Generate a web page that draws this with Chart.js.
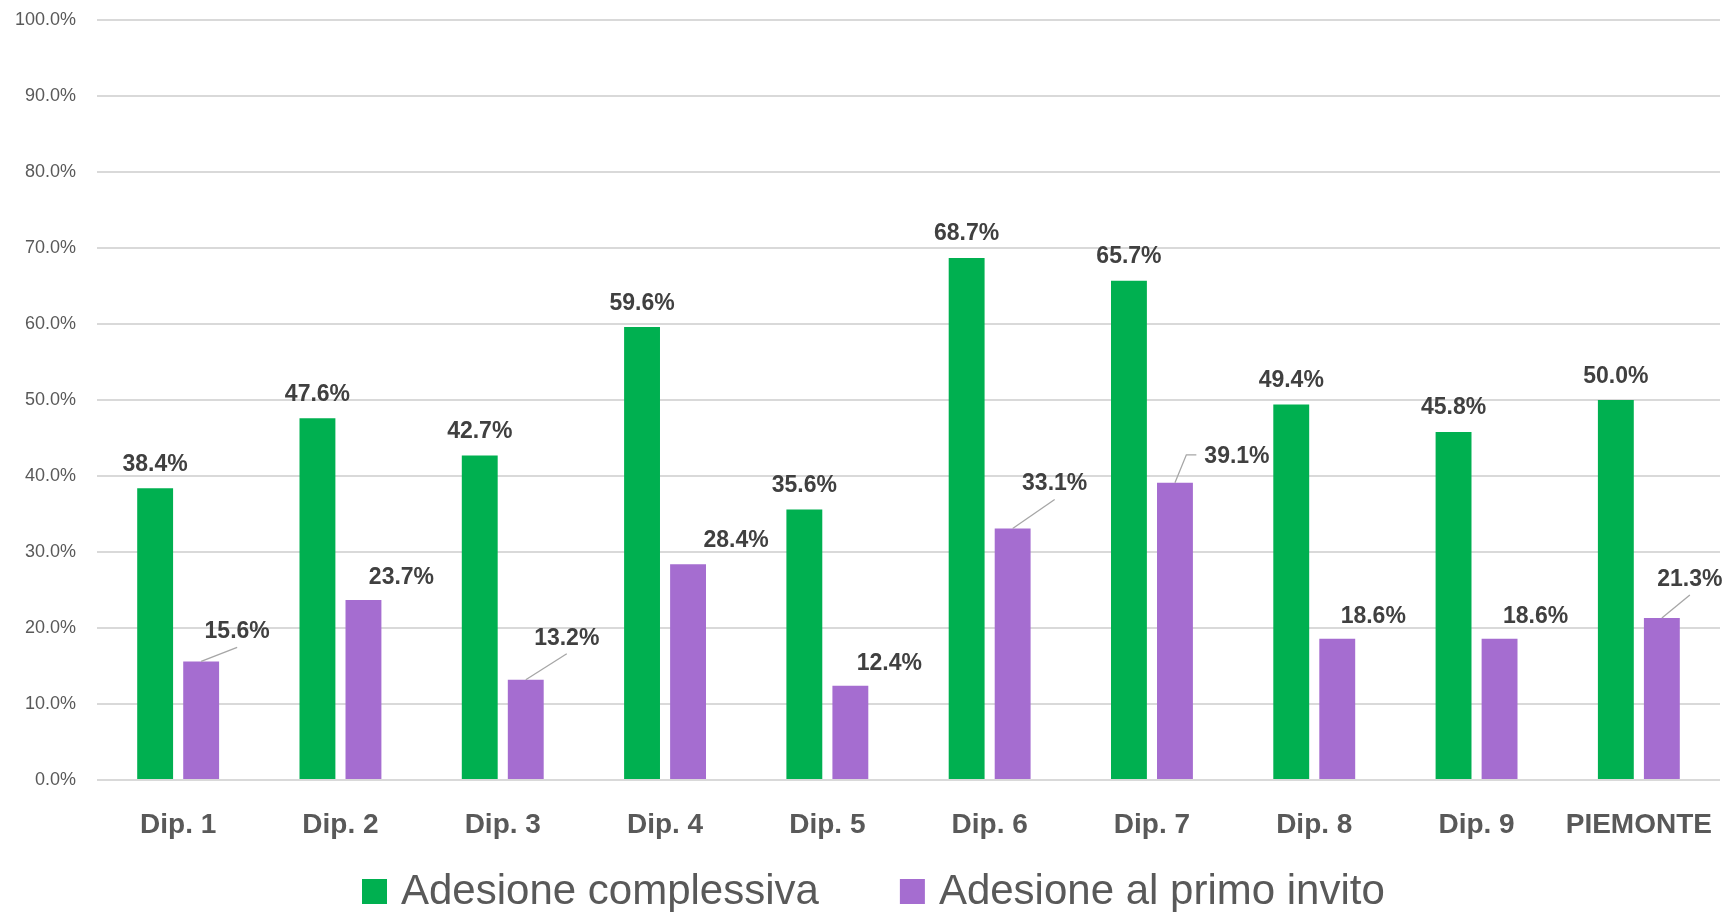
<!DOCTYPE html>
<html lang="it">
<head>
<meta charset="UTF-8">
<title>Adesione per dipartimento</title>
<script src="https://cdn.jsdelivr.net/npm/chart.js@4.4.1/dist/chart.umd.min.js"></script>
<style>
  html, body { margin: 0; padding: 0; background: #fff; }
  #wrap { width: 1726px; height: 912px; position: relative; }
</style>
</head>
<body>
<div id="wrap"><canvas id="grafico"></canvas></div>
<script>
// Dati
const categorie = ['Dip. 1', 'Dip. 2', 'Dip. 3', 'Dip. 4', 'Dip. 5', 'Dip. 6', 'Dip. 7', 'Dip. 8', 'Dip. 9', 'PIEMONTE'];
const adesioneComplessiva = [38.4, 47.6, 42.7, 59.6, 35.6, 68.7, 65.7, 49.4, 45.8, 50.0];
const adesionePrimoInvito = [15.6, 23.7, 13.2, 28.4, 12.4, 33.1, 39.1, 18.6, 18.6, 21.3];
const tickAsseY = [0, 10, 20, 30, 40, 50, 60, 70, 80, 90, 100];

// Spostamento delle etichette viola rispetto alla cima della barra: [dx, dy, linea guida]
const spostamentoEtichette = [
  [36, -31, 1], [38, -24, 0], [41, -43, 1], [48, -25, 0], [39, -24, 0],
  [42, -46, 1], [62, -28, 2], [36, -24, 0], [36, -24, 0], [28, -40, 1]
];

const FONT = '"Liberation Sans", Arial, sans-serif';
const fmt = v => v.toFixed(1) + '%';

// Etichette dei valori sopra le barre
const etichettePlugin = {
  id: 'etichette',
  afterDatasetsDraw(chart) {
    const ctx = chart.ctx;
    ctx.save();
    ctx.font = 'bold 23px ' + FONT;
    ctx.fillStyle = '#404040';
    ctx.textAlign = 'center';
    ctx.textBaseline = 'alphabetic';

    chart.getDatasetMeta(0).data.forEach((bar, i) => {
      ctx.fillText(fmt(chart.data.datasets[0].data[i]), bar.x, bar.y - 17.5);
    });

    chart.getDatasetMeta(1).data.forEach((bar, i) => {
      const [dx, dy, guida] = spostamentoEtichette[i];
      const cx = bar.x + dx;
      const cy = bar.y + dy;
      const testo = fmt(chart.data.datasets[1].data[i]);
      if (guida) {
        ctx.strokeStyle = '#a6a6a6';
        ctx.lineWidth = 1.3;
        ctx.beginPath();
        ctx.moveTo(bar.x, bar.y);
        if (guida === 1) {
          ctx.lineTo(cx, cy + 17);
        } else {
          const ex = cx - ctx.measureText(testo).width / 2 - 8;
          ctx.lineTo(ex - 10, cy);
          ctx.lineTo(ex, cy);
        }
        ctx.stroke();
      }
      ctx.fillText(testo, cx, cy + 8);
    });
    ctx.restore();
  }
};

// Legenda in basso
const legendaPlugin = {
  id: 'legenda',
  afterDraw(chart) {
    const ctx = chart.ctx;
    ctx.save();
    ctx.font = '42px ' + FONT;
    ctx.textAlign = 'left';
    ctx.textBaseline = 'alphabetic';
    let x = 362;
    const y = 904;
    chart.data.datasets.forEach(ds => {
      ctx.fillStyle = ds.backgroundColor;
      ctx.fillRect(x, y - 25, 25, 25);
      ctx.fillStyle = '#595959';
      ctx.fillText(ds.label, x + 39, y);
      x += 39 + ctx.measureText(ds.label).width + 81;
    });
    ctx.restore();
  }
};

const ctx = document.getElementById('grafico').getContext('2d');
new Chart(ctx, {
  type: 'bar',
  data: {
    labels: categorie,
    datasets: [
      {
        label: 'Adesione complessiva',
        data: adesioneComplessiva,
        backgroundColor: '#00b050',
        categoryPercentage: 0.567,
        barPercentage: 0.78
      },
      {
        label: 'Adesione al primo invito',
        data: adesionePrimoInvito,
        backgroundColor: '#a56dd0',
        categoryPercentage: 0.567,
        barPercentage: 0.78
      }
    ]
  },
  options: {
    responsive: true,
    maintainAspectRatio: false,
    devicePixelRatio: 1,
    animation: false,
    layout: { padding: { top: 20, right: 6, bottom: 0, left: 0 } },
    plugins: {
      legend: { display: false },
      tooltip: { enabled: false }
    },
    scales: {
      x: {
        grid: { display: false, drawTicks: false },
        border: { display: false },
        ticks: {
          padding: 28,
          color: '#595959',
          font: { family: FONT, size: 28, weight: 'bold' }
        },
        afterFit: s => {
          s.height = 132;
          s.paddingLeft = 0;
          s.paddingRight = 0;
        }
      },
      y: {
        min: 0,
        max: 100,
        afterBuildTicks: s => { s.ticks = tickAsseY.map(v => ({ value: v })); },
        grid: { color: '#d9d9d9', lineWidth: 2, drawTicks: false },
        border: { display: false },
        ticks: {
          padding: 21,
          color: '#595959',
          font: { family: FONT, size: 18 },
          callback: v => fmt(v)
        },
        afterFit: s => {
          s.width = 97;
          s.paddingTop = 0;
          s.paddingBottom = 0;
        }
      }
    }
  },
  plugins: [etichettePlugin, legendaPlugin]
});
</script>
</body>
</html>
